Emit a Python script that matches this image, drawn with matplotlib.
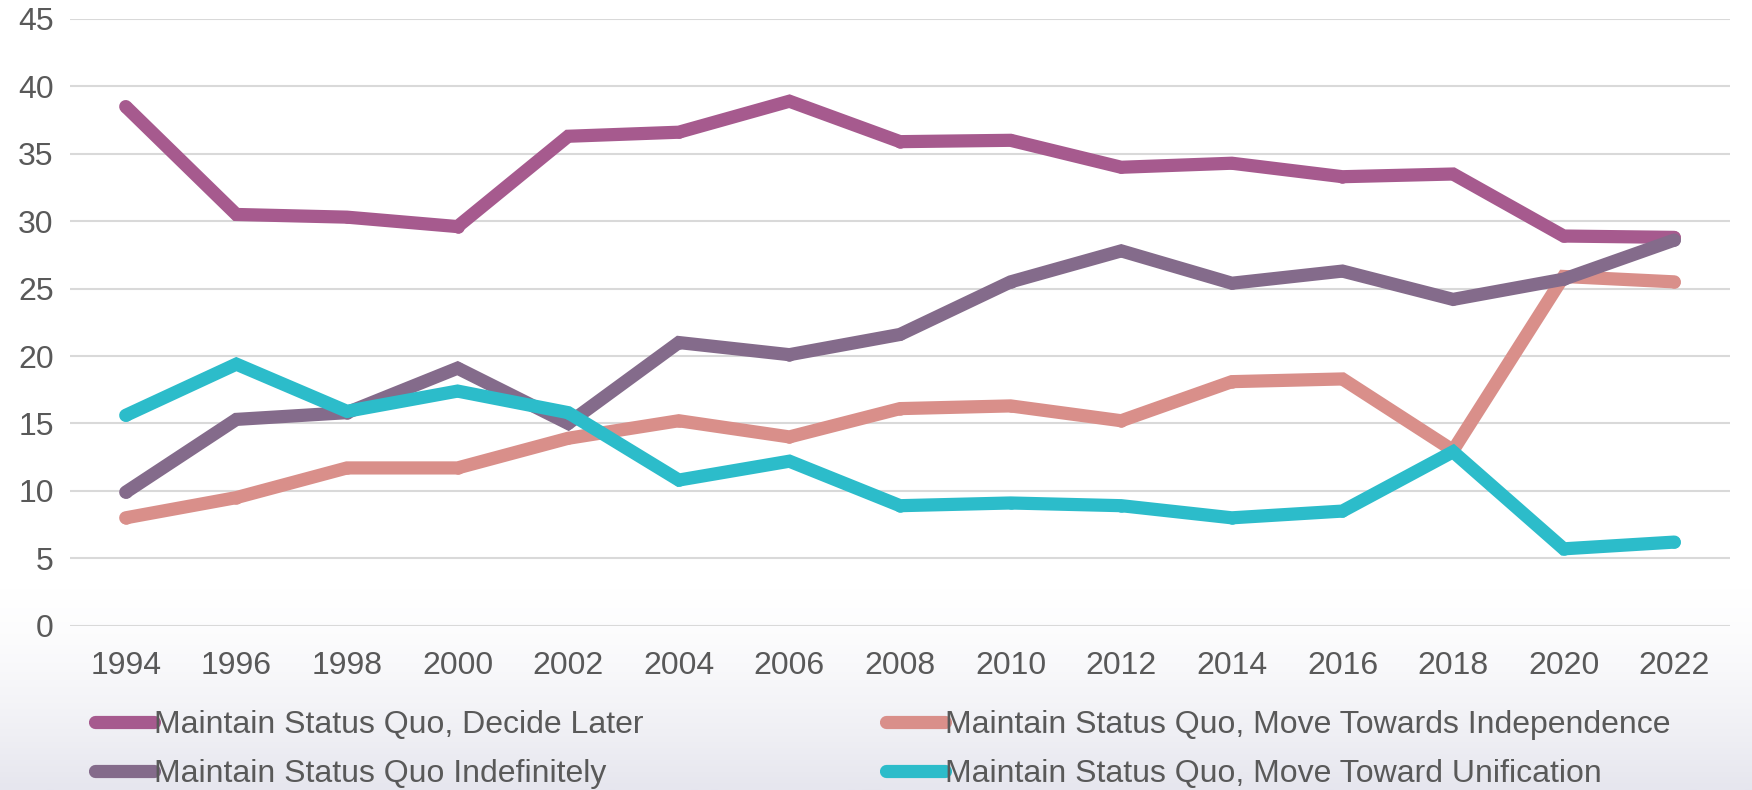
import numpy as np
import matplotlib
matplotlib.use("Agg")
from matplotlib import pyplot as plt
from matplotlib.colors import LinearSegmentedColormap

years = ['1994', '1996', '1998', '2000', '2002', '2004', '2006', '2008',
         '2010', '2012', '2014', '2016', '2018', '2020', '2022']

decide_later = [38.5, 30.5, 30.3, 29.6, 36.3, 36.6, 38.9, 35.9, 36.0, 34.0, 34.3, 33.3, 33.5, 28.9, 28.8]
independence = [8.0, 9.5, 11.7, 11.7, 13.9, 15.2, 14.0, 16.1, 16.3, 15.2, 18.1, 18.3, 13.0, 25.9, 25.5]
indefinitely = [9.9, 15.3, 15.8, 19.1, 15.0, 21.0, 20.1, 21.6, 25.5, 27.8, 25.4, 26.3, 24.2, 25.7, 28.6]
unification = [15.6, 19.4, 15.9, 17.4, 15.8, 10.8, 12.2, 8.9, 9.1, 8.9, 8.0, 8.5, 12.9, 5.7, 6.2]

names = ['Maintain Status Quo, Decide Later',
         'Maintain Status Quo, Move Towards Independence',
         'Maintain Status Quo Indefinitely',
         'Maintain Status Quo, Move Toward Unification']
colors = ['#A65A8E', '#D98F8A', '#846B8B', '#2CBCCA']
series = [decide_later, independence, indefinitely, unification]

plt.rcParams['font.family'] = ['Liberation Sans', 'DejaVu Sans']
text_color = '#595959'

fig = plt.figure(figsize=(17.52, 7.9), dpi=100)

# faint slide background fading in below the plot
bg = fig.add_axes([0, 0, 1, 1], zorder=-5)
grad = np.linspace(0, 1, 300).reshape(-1, 1)
grad = np.clip((grad - 0.74) / 0.26, 0, 1) ** 1.5
cmap = LinearSegmentedColormap.from_list('bg', ['#FFFFFF', '#E6E6EE'])
bg.imshow(grad, aspect='auto', cmap=cmap, extent=[0, 1, 0, 1], vmin=0, vmax=1)
bg.axis('off')

ax = fig.add_axes([0.0402, 0.208, 0.947, 0.768])
ax.set_facecolor('none')

x = np.arange(len(years))
lines = []
for vals, c, n in zip(series, colors, names):
    ln, = ax.plot(x, vals, color=c, lw=9.5, marker='o', ms=8,
                  solid_capstyle='round', solid_joinstyle='miter', label=n)
    lines.append(ln)

ax.set_ylim(0, 45)
ax.set_xlim(-0.5, len(years) - 0.5)
ax.set_yticks(range(0, 46, 5))
ax.set_xticks(x)
ax.set_xticklabels(years)
ax.grid(axis='y', color='#D9D9D9', lw=1.5)
ax.set_axisbelow(True)
for s in ax.spines.values():
    s.set_visible(False)
ax.tick_params(length=0, labelsize=23, labelcolor=text_color)
ax.tick_params(axis='y', pad=12)
ax.tick_params(axis='x', pad=18)

# excel fills the legend row by row
order = [0, 2, 1, 3]
fig.legend([lines[i] for i in order], [names[i] for i in order],
           loc='center left', bbox_to_anchor=(0.054, 0.051), ncol=2,
           frameon=False, fontsize=23, labelcolor=text_color,
           handlelength=1.85, handletextpad=0.0, columnspacing=7.6,
           labelspacing=0.58, borderpad=0, borderaxespad=0)

fig.savefig('out.png', dpi=100)
